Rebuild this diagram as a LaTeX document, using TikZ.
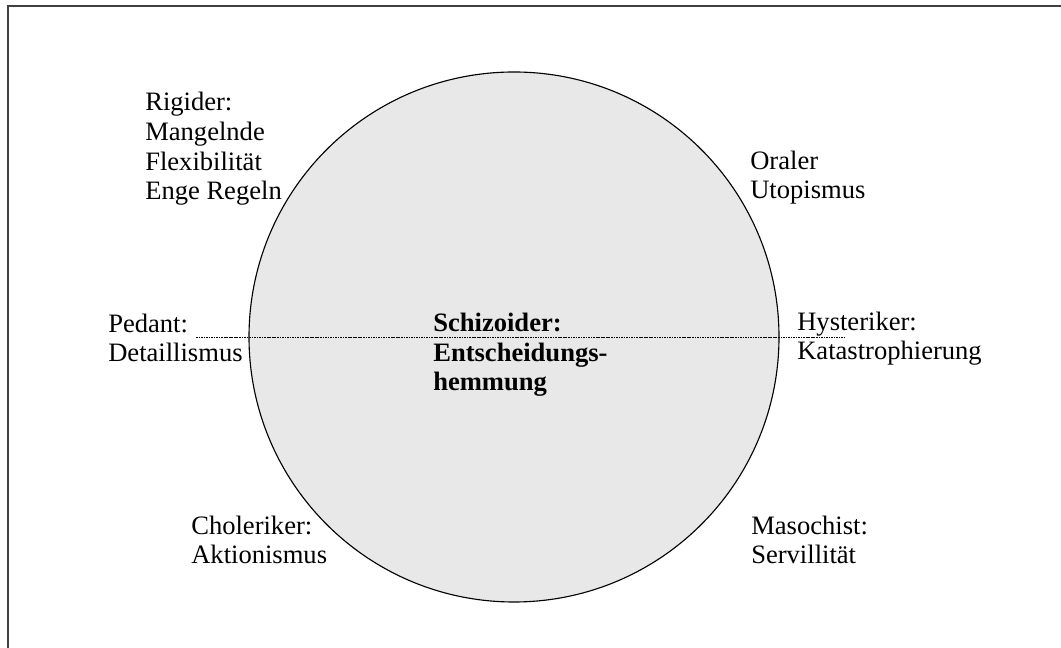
\documentclass[tikz,border=0pt]{standalone}
\usepackage{fontspec}
\setmainfont{Liberation Serif}
\definecolor{circlefill}{gray}{0.91}
\tikzset{
    typelabel/.style={anchor=base west,inner sep=0pt,align=left,
        font=\fontsize{18.9}{21.3}\selectfont},
    corelabel/.style={typelabel,font=\fontsize{18.9}{21.3}\selectfont\bfseries},
}
% anchor is the baseline of the last line
\newcommand\TypeLabel[4]{%
    \node[typelabel] (#1) at (#2,#3) {#4};
}

\begin{document}
\begin{tikzpicture}
    \useasboundingbox (0,0) rectangle (26.525,16.2);
    % frame
    \draw[line width=1.3pt,color=black!75] (0.2,0) -- (0.2,16.06) -- (26.525,16.06);
    % circle
    \node[circle,draw,line width=0.8pt,fill=circlefill,minimum size=13.25cm,inner sep=0pt]
        (Circle) at (12.85,7.775) {};
    \coordinate (AxisStart) at (4.9,7.76);
    \coordinate (AxisEnd) at (21.125,7.76);
    \draw[line width=0.5pt,dash pattern=on 1.2pt off 0.6pt] (AxisStart) -- (AxisEnd);
    % labels
    \TypeLabel{Rigider}{3.625}{11.2}{Rigider:\\Mangelnde\\Flexibilität\\Enge Regeln}
    \TypeLabel{Oraler}{18.75}{11.225}{Oraler\\Utopismus}
    \TypeLabel{Pedant}{2.7}{7.15}{Pedant:\\Detaillismus}
    \TypeLabel{Hysteriker}{19.925}{7.2}{Hysteriker:\\Katastrophierung}
    \TypeLabel{Choleriker}{4.775}{2.1}{Choleriker:\\Aktionismus}
    \TypeLabel{Masochist}{18.775}{2.1}{Masochist:\\Servillität}
    \node[corelabel] (Schizoider) at (10.825,6.425) {Schizoider:\\Entscheidungs-\\hemmung};
\end{tikzpicture}
\end{document}
